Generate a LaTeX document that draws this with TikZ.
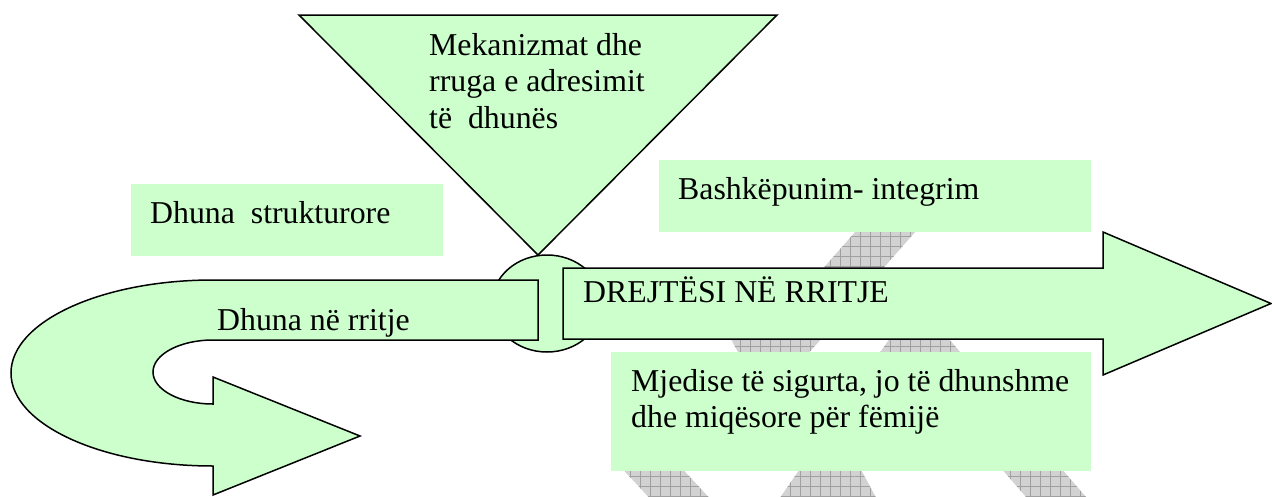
\documentclass[tikz,border=0pt]{standalone}
\usepackage{fontspec}
\setmainfont{Liberation Serif}
\usetikzlibrary{patterns.meta}
\definecolor{lgreen}{HTML}{CCFFCC}
\definecolor{wmfill}{HTML}{D2D2D2}
\definecolor{wmline}{HTML}{A0A0A0}
\tikzset{
  fig/.style={fill=lgreen, draw=black, line width=1.5pt, line join=miter},
  tbox/.style={fill=lgreen, draw=none},
  txt/.style={inner sep=0pt, anchor=base west, font=\fontsize{31.8pt}{36.5pt}\selectfont},
  wm/.style={fill=wmfill, draw=none,
    postaction={pattern={Hatch[distance=10pt,angle=0,line width=0.7pt]}, pattern color=wmline}},
}
\begin{document}
\begin{tikzpicture}[x=1pt,y=-1pt]
\useasboundingbox (0,0) rectangle (1272,496);
% faint watermark bands
\path[wm] (870,215) -- (930,215) -- (706,470) -- (646,470) -- cycle;
\path[wm] (616,462) -- (676,462) -- (716,505) -- (656,505) -- cycle;
\path[wm] (710,300) -- (770,300) -- (880,505) -- (820,505) -- cycle;
\path[wm] (930,280) -- (990,280) -- (835,505) -- (775,505) -- cycle;
\path[wm] (855,300) -- (915,300) -- (1093,505) -- (1033,505) -- cycle;
% plain text boxes
\path[tbox] (131,184) rectangle (443,256);
\node[txt] (strukt) at (150,223) {Dhuna\ \ strukturore};
\path[tbox] (659,160) rectangle (1091,232);
\node[txt] (bash) at (678,199) {Bashkëpunim- integrim};
\path[tbox] (611,352) rectangle (1091,471);
\node[txt] (mjed1) at (631,391) {Mjedise të sigurta, jo të dhunshme};
\node[txt] (mjed2) at (631,427) {dhe miqësore për fëmijë};
% triangle
\path[fig] (299,15) -- (777,15) -- (538,255) -- cycle;
\node[txt] (mek1) at (429,55) {Mekanizmat dhe};
\node[txt] (mek2) at (429,91.5) {rruga e adresimit};
\node[txt] (mek3) at (429,128) {të\ \ dhunës};
% ellipse
\path[fig] (547,303.5) ellipse [x radius=55pt, y radius=48.5pt];
% U-turn arrow
\path[fig] (538,280) -- (213,280)
  .. controls (101.4,280) and (11,321.6) .. (11,373)
  .. controls (11,424.4) and (101.4,466) .. (213,466)
  -- (213,495) -- (360,436) -- (213,377) -- (213,404)
  .. controls (179.9,404) and (153,389.7) .. (153,372)
  .. controls (153,354.3) and (179.9,340) .. (213,340)
  -- (538,340) -- cycle;
\node[txt] (dhr) at (217,330) {Dhuna në rritje};
% right arrow
\path[fig] (563,268) -- (1103,268) -- (1103,232) -- (1271,303.5) -- (1103,375) -- (1103,339) -- (563,339) -- cycle;
\node[txt] (drej) at (583,302) {DREJTËSI NË RRITJE};
\end{tikzpicture}
\end{document}
